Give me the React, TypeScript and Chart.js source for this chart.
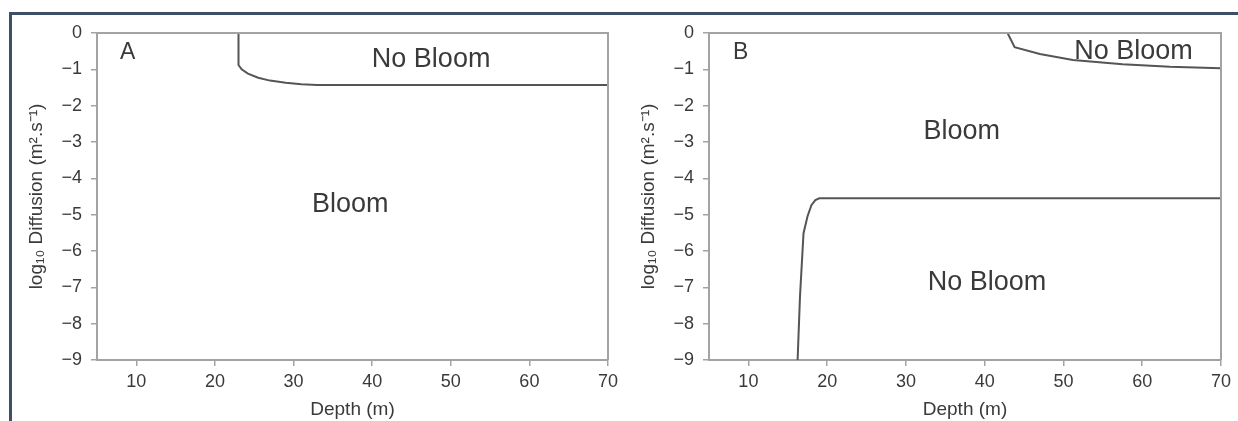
import React, { useEffect, useRef } from 'react';
import { Chart, registerables } from 'chart.js';

Chart.register(...registerables);

// ---- data ----
const X_TICKS = [10, 20, 30, 40, 50, 60, 70];
const Y_TICKS = [0, -1, -2, -3, -4, -5, -6, -7, -8, -9];

const A_DEPTH = [23, 23, 23.4, 24.2, 25.5, 27, 29, 31, 33, 70];
const A_LOGD = [0, -0.88, -1.0, -1.12, -1.23, -1.31, -1.37, -1.41, -1.43, -1.43];

const B_UPPER_DEPTH = [42.9, 43.8, 47.0, 51.2, 57.5, 63.5, 70];
const B_UPPER_LOGD = [0, -0.39, -0.58, -0.74, -0.86, -0.93, -0.97];

const B_LOWER_DEPTH = [16.25, 16.55, 17.0, 17.5, 18.0, 18.5, 19.0, 70];
const B_LOWER_LOGD = [-9, -7.26, -5.51, -5.05, -4.74, -4.6, -4.55, -4.55];

const A_LABELS = ['A', 'No Bloom', 'Bloom'];
const A_LABEL_X = [7.94, 47.5, 37.2];
const A_LABEL_Y = [-0.55, -0.72, -4.71];

const B_LABELS = ['B', 'No Bloom', 'Bloom', 'No Bloom'];
const B_LABEL_X = [8.05, 58.9, 37.1, 40.3];
const B_LABEL_Y = [-0.55, -0.52, -2.7, -6.88];

// ---- styles ----
const FONT = '"Liberation Sans", Arial, Helvetica, sans-serif';
const AXIS_COLOR = '#a3a3a3';
const LINE_COLOR = '#555555';
const TEXT_COLOR = '#3a3a3a';

const toPoints = (xs: number[], ys: number[]) => xs.map((x, i) => ({ x, y: ys[i] }));

const boxAndLabels = {
  id: 'boxAndLabels',
  afterDraw(chart: any, _args: any, opts: any) {
    const { ctx, chartArea: ca, scales } = chart;
    ctx.save();
    ctx.strokeStyle = AXIS_COLOR;
    ctx.lineWidth = 2;
    ctx.beginPath();
    ctx.moveTo(ca.left, ca.top);
    ctx.lineTo(ca.right, ca.top);
    ctx.lineTo(ca.right, ca.bottom);
    ctx.stroke();
    const labels: string[] = opts.labels || [];
    const xs: number[] = opts.xs || [];
    const ys: number[] = opts.ys || [];
    ctx.fillStyle = TEXT_COLOR;
    ctx.textBaseline = 'middle';
    labels.forEach((t, i) => {
      const px = scales.x.getPixelForValue(xs[i]);
      const py = scales.y.getPixelForValue(ys[i]);
      if (i === 0) {
        ctx.font = `23px ${FONT}`;
        ctx.textAlign = 'left';
      } else {
        ctx.font = `27px ${FONT}`;
        ctx.textAlign = 'center';
      }
      ctx.fillText(t, px, py);
    });
    ctx.restore();
  },
};

const minus = (v: number) => (v < 0 ? '\u2212' + Math.abs(v) : String(v));

function Panel(props: { left: number; width: number; series: { xs: number[]; ys: number[] }[]; labels: string[]; lx: number[]; ly: number[] }) {
  const ref = useRef<HTMLCanvasElement>(null);
  useEffect(() => {
    if (!ref.current) return;
    const chart = new Chart(ref.current, {
      type: 'line',
      data: {
        datasets: props.series.map((s) => ({
          data: toPoints(s.xs, s.ys),
          borderColor: LINE_COLOR,
          borderWidth: 2,
          pointRadius: 0,
          tension: 0,
          fill: false,
        })),
      },
      options: {
        animation: false,
        responsive: false,
        layout: { padding: { top: 33, right: 17, left: 0, bottom: 0 } },
        plugins: {
          legend: { display: false },
          tooltip: { enabled: false },
          boxAndLabels: { labels: props.labels, xs: props.lx, ys: props.ly },
        } as any,
        scales: {
          x: {
            type: 'linear',
            min: 5,
            max: 70,
            afterBuildTicks: (scale: any) => {
              scale.ticks = X_TICKS.map((v) => ({ value: v }));
            },
            afterFit: (scale: any) => {
              scale.height = 61;
            },
            border: { display: true, color: AXIS_COLOR, width: 2 },
            grid: { drawOnChartArea: false, drawTicks: true, tickLength: 6, color: AXIS_COLOR, lineWidth: 1.5 },
            ticks: { color: TEXT_COLOR, font: { family: FONT, size: 18 }, padding: 5, maxRotation: 0 },
            title: { display: true, text: 'Depth (m)', color: TEXT_COLOR, font: { family: FONT, size: 19 }, padding: { top: 0, bottom: 0 } },
          },
          y: {
            type: 'linear',
            min: -9,
            max: 0,
            afterBuildTicks: (scale: any) => {
              scale.ticks = Y_TICKS.map((v) => ({ value: v }));
            },
            afterFit: (scale: any) => {
              scale.width = 97;
            },
            border: { display: true, color: AXIS_COLOR, width: 2 },
            grid: { drawOnChartArea: false, drawTicks: true, tickLength: 6, color: AXIS_COLOR, lineWidth: 1.5 },
            ticks: { color: TEXT_COLOR, font: { family: FONT, size: 18 }, padding: 9, callback: (v: any) => minus(Number(v)) },
            title: {
              display: true,
              text: 'log\u2081\u2080 Diffusion (m\u00b2.s\u207b\u00b9)',
              color: TEXT_COLOR,
              font: { family: FONT, size: 19 },
              padding: { top: 25, bottom: 0 },
            },
          },
        },
      } as any,
      plugins: [boxAndLabels],
    });
    return () => chart.destroy();
  }, []);
  return (
    <canvas
      ref={ref}
      width={props.width}
      height={421}
      style={{ position: 'absolute', left: props.left, top: 0, width: props.width, height: 421 }}
    />
  );
}

export default function App() {
  return (
    <div style={{ position: 'absolute', left: 0, top: 0, width: 1238, height: 421, background: '#ffffff', overflow: 'hidden' }}>
      <div
        style={{
          position: 'absolute',
          left: 9,
          top: 12,
          width: 1229,
          height: 409,
          borderTop: '3px solid #3e5068',
          borderLeft: '3px solid #3e5068',
          boxSizing: 'border-box',
        }}
      />
      <Panel
        left={0}
        width={625}
        series={[{ xs: A_DEPTH, ys: A_LOGD }]}
        labels={A_LABELS}
        lx={A_LABEL_X}
        ly={A_LABEL_Y}
      />
      <Panel
        left={612}
        width={626}
        series={[
          { xs: B_UPPER_DEPTH, ys: B_UPPER_LOGD },
          { xs: B_LOWER_DEPTH, ys: B_LOWER_LOGD },
        ]}
        labels={B_LABELS}
        lx={B_LABEL_X}
        ly={B_LABEL_Y}
      />
    </div>
  );
}
